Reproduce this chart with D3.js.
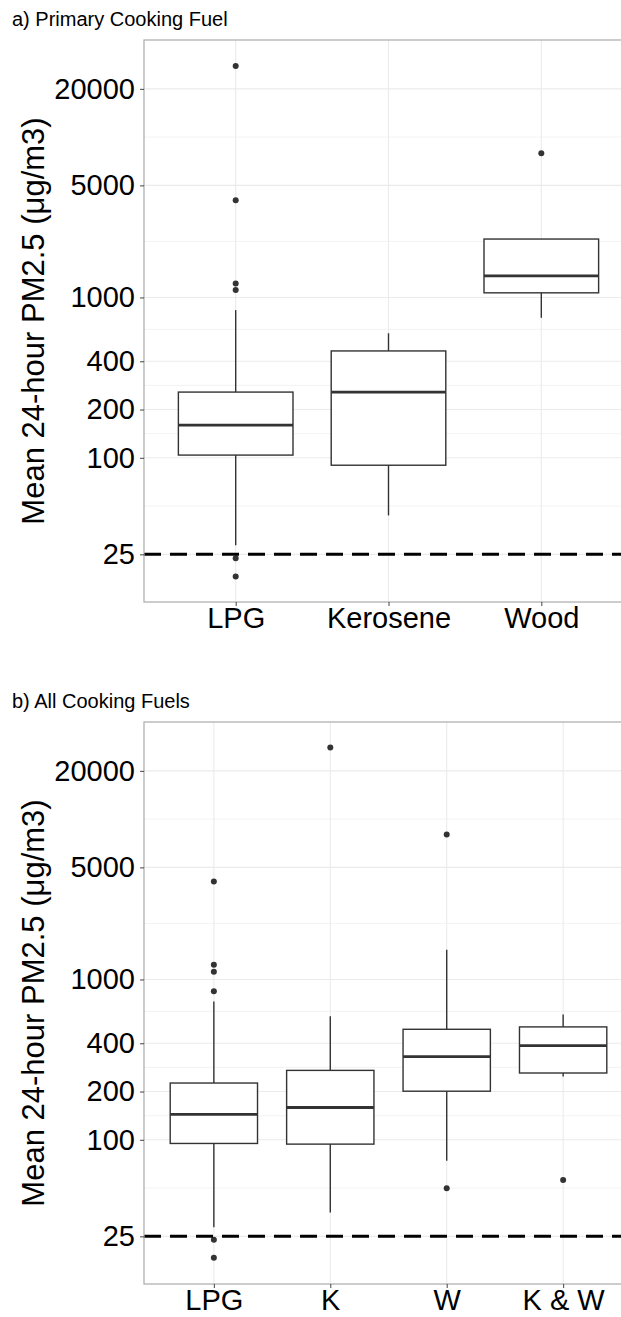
<!DOCTYPE html>
<html>
<head>
<meta charset="utf-8">
<script src="https://cdn.jsdelivr.net/npm/d3@7"></script>
<style>
  body { margin: 0; background: #fff; }
  text { font-family: "Liberation Sans", Arial, sans-serif; }
</style>
</head>
<body>
<div id="chart"></div>
<script>
// a) primary cooking fuel - box statistics (ug/m3)
const fuelsA = ["LPG", "Kerosene", "Wood"];
const lowerA = [28.5, 43.7, 747];
const q1A = [104, 89.9, 1069];
const medianA = [160, 257, 1362];
const q3A = [257, 464, 2314];
const upperA = [834, 598, 2314];
const outliersA = [[27800, 4045, 1222, 1115, 23.6, 18.2], [], [7925]];

// b) all cooking fuels
const fuelsB = ["LPG", "K", "W", "K & W"];
const lowerB = [28.5, 35.2, 74, 248];
const q1B = [94.9, 94, 201, 261];
const medianB = [144, 159, 330, 387];
const q3B = [226, 271, 489, 506];
const upperB = [730, 589, 1530, 604];
const outliersB = [[4090, 1235, 1117, 843, 23.8, 18.4], [27950], [8012, 49.8], [56.1]];

// axis breaks and the WHO guideline
const yTicks = [25, 100, 200, 400, 1000, 5000, 20000];
const guideline = 25;

var width = 621, height = 1317;
var plotLeft = 144, plotRight = 633;

var svg = d3.select("#chart")
    .append("svg")
    .attr("width", width)
    .attr("height", height)
    .style("display", "block");

svg.append("rect")
    .attr("width", width)
    .attr("height", height)
    .attr("fill", "#fff");

// shared log domain with 5% expansion (like ggplot)
var allVals = [].concat(lowerA, upperA, outliersA.flat(), lowerB, upperB, outliersB.flat());
var ext = d3.extent(allVals).map(Math.log10);
var pad = (ext[1] - ext[0]) * 0.05;
var yDomain = [Math.pow(10, ext[0] - pad), Math.pow(10, ext[1] + pad)];

// minor breaks half way between majors (in log space)
var minorTicks = d3.pairs(yTicks).map(p => Math.sqrt(p[0] * p[1]));

function drawPanel(title, cats, lower, q1, med, q3, upper, outliers, top, bottom, titleY) {
    var g = svg.append("g");

    var x = d3.scalePoint()
        .domain(cats)
        .range([plotLeft, plotRight])
        .padding(0.6);

    var y = d3.scaleLog()
        .domain(yDomain)
        .range([bottom, top]);

    var boxW = x.step() * 0.75;

    // grid
    g.selectAll(".minor").data(minorTicks).join("line")
        .attr("x1", plotLeft).attr("x2", plotRight)
        .attr("y1", d => y(d)).attr("y2", d => y(d))
        .attr("stroke", "#f0f0f0").attr("stroke-width", 0.8);
    g.selectAll(".major").data(yTicks).join("line")
        .attr("x1", plotLeft).attr("x2", plotRight)
        .attr("y1", d => y(d)).attr("y2", d => y(d))
        .attr("stroke", "#ebebeb").attr("stroke-width", 1.1);
    g.selectAll(".vgrid").data(cats).join("line")
        .attr("x1", d => x(d)).attr("x2", d => x(d))
        .attr("y1", top).attr("y2", bottom)
        .attr("stroke", "#ebebeb").attr("stroke-width", 1.1);

    // whiskers
    g.selectAll(".whisk").data(cats).join("line")
        .attr("x1", d => x(d)).attr("x2", d => x(d))
        .attr("y1", (d, i) => y(lower[i])).attr("y2", (d, i) => y(upper[i]))
        .attr("stroke", "#333").attr("stroke-width", 1.4);

    // boxes
    g.selectAll(".box").data(cats).join("rect")
        .attr("x", d => x(d) - boxW / 2)
        .attr("width", boxW)
        .attr("y", (d, i) => y(q3[i]))
        .attr("height", (d, i) => y(q1[i]) - y(q3[i]))
        .attr("fill", "#fff")
        .attr("stroke", "#333").attr("stroke-width", 1.4);

    // medians
    g.selectAll(".med").data(cats).join("line")
        .attr("x1", d => x(d) - boxW / 2).attr("x2", d => x(d) + boxW / 2)
        .attr("y1", (d, i) => y(med[i])).attr("y2", (d, i) => y(med[i]))
        .attr("stroke", "#333").attr("stroke-width", 2.8);

    // outliers
    var pts = [];
    cats.forEach((c, i) => outliers[i].forEach(v => pts.push({ cat: c, value: v })));
    g.selectAll(".out").data(pts).join("circle")
        .attr("cx", d => x(d.cat))
        .attr("cy", d => y(d.value))
        .attr("r", 3)
        .attr("fill", "#333");

    // dashed guideline
    g.append("line")
        .attr("x1", plotLeft).attr("x2", plotRight)
        .attr("y1", y(guideline)).attr("y2", y(guideline))
        .attr("stroke", "#000").attr("stroke-width", 3)
        .attr("stroke-dasharray", "17,9");

    // panel border
    g.append("rect")
        .attr("x", plotLeft).attr("y", top)
        .attr("width", plotRight - plotLeft).attr("height", bottom - top)
        .attr("fill", "none")
        .attr("stroke", "#aaa").attr("stroke-width", 1.2);

    // y axis
    var yAxis = g.append("g")
        .attr("transform", "translate(" + plotLeft + ",0)")
        .call(d3.axisLeft(y).tickValues(yTicks).tickFormat(d3.format("d")).tickSize(4).tickPadding(5));
    yAxis.select(".domain").remove();
    yAxis.selectAll("line").attr("stroke", "#444");
    yAxis.selectAll("text")
        .attr("fill", "#000")
        .style("font-size", "29px")
        .style("font-family", "'Liberation Sans', Arial, sans-serif");

    // x axis
    var xAxis = g.append("g")
        .attr("transform", "translate(0," + bottom + ")")
        .call(d3.axisBottom(x).tickSize(4).tickPadding(1));
    xAxis.select(".domain").remove();
    xAxis.selectAll("line").attr("stroke", "#444");
    xAxis.selectAll("text")
        .attr("fill", "#000")
        .style("font-size", "29px")
        .style("font-family", "'Liberation Sans', Arial, sans-serif");

    // y axis title
    g.append("text")
        .attr("transform", "translate(44," + ((top + bottom) / 2) + ") rotate(-90)")
        .attr("text-anchor", "middle")
        .style("font-size", "31px")
        .text("Mean 24-hour PM2.5 (μg/m3)");

    // panel title
    g.append("text")
        .attr("x", 12)
        .attr("y", titleY)
        .style("font-size", "20px")
        .text(title);
}

drawPanel("a) Primary Cooking Fuel", fuelsA, lowerA, q1A, medianA, q3A, upperA, outliersA, 40, 602, 26);
drawPanel("b) All Cooking Fuels", fuelsB, lowerB, q1B, medianB, q3B, upperB, outliersB, 722, 1284, 708);
</script>
</body>
</html>
